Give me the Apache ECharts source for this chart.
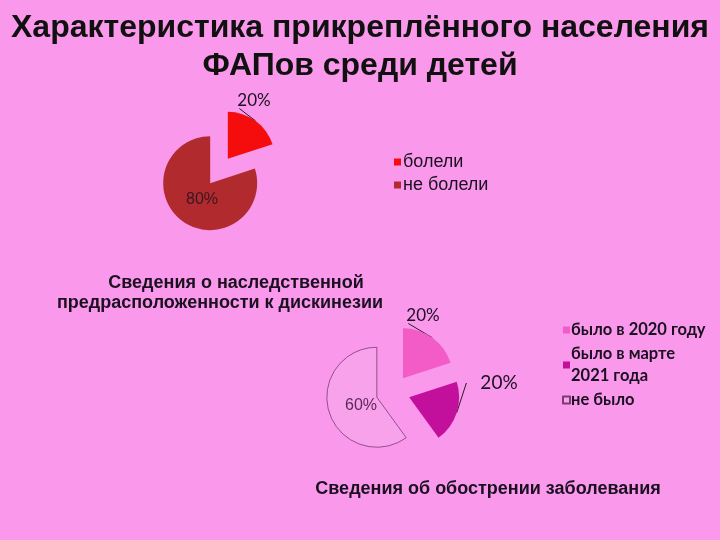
<!DOCTYPE html>
<html><head><meta charset="utf-8">
<script src="https://cdn.jsdelivr.net/npm/echarts@6/dist/echarts.min.js"></script>
<style>html,body{margin:0;padding:0;background:#FA98EC}#c{width:720px;height:540px}</style>
</head><body><div id="c"></div>
<script>
const titleLines = ['Характеристика прикреплённого населения', 'ФАПов среди детей'];
const sub1Lines = ['Сведения о наследственной', 'предрасположенности к дискинезии'];
const sub2 = 'Сведения об обострении заболевания';

const cat1 = ['болели', 'не болели'];
const val1 = [20, 80];
const col1 = ['#F50C0C', '#B02A2E'];

const cat2 = ['было в 2020 году', 'было в марте 2021 года', 'не было'];
const val2 = [20, 20, 60];
const col2 = ['#F35CC6', '#C3109C', '#F9A2EC'];

// label styles / positions (layout only); line: where the leader line meets the label
const lab1 = [
  {pos: [254, 101], font: 'Lato', size: 17, color: '#1a1020', line: 'bottomleft'},
  {pos: [202, 200], font: 'Liberation Sans', size: 16, color: '#3a1622', line: null}
];
const lab2 = [
  {pos: [423, 316], font: 'Lato', size: 17, color: '#1a1020', line: 'bottomleft'},
  {pos: [499, 383], font: 'Lato', size: 19, color: '#1a1020', line: 'left'},
  {pos: [361, 406], font: 'Liberation Sans', size: 16, color: '#5a2a58', line: null}
];
const border2 = [null, null, {borderColor: '#7a3a72', borderWidth: 0.8}];

function explodedPie(names, values, colors, center, radius, offset, labs, borders) {
  const total = values.reduce((a, b) => a + b, 0);
  let cum = 0;
  return names.map((name, i) => {
    const mid = (cum + values[i] / 2) / total * 2 * Math.PI;
    cum += values[i];
    const cx = center[0] + offset * Math.sin(mid);
    const cy = center[1] - offset * Math.cos(mid);
    const L = labs[i];
    return {
      type: 'pie', center: [cx, cy], radius: radius, startAngle: 90,
      avoidLabelOverlap: false, emphasis: {disabled: true}, silent: true,
      data: names.map((n, j) => j === i ? {
        name: n, value: values[j],
        itemStyle: Object.assign({color: colors[j]}, (borders && borders[j]) || {}),
        label: {show: true, position: L.line ? 'outside' : 'inside', formatter: '{d}%',
                fontFamily: L.font, fontSize: L.size, color: L.color},
        labelLine: {show: !!L.line, length: 6, length2: 4, lineStyle: {color: '#2a1a2a', width: 1}}
      } : {
        name: '', value: values[j],
        itemStyle: {color: 'rgba(0,0,0,0)', borderWidth: 0},
        label: {show: false}, labelLine: {show: false}
      }),
      labelLayout: p => {
        if (p.dataIndex !== i) return {};
        const out = {x: L.pos[0], y: L.pos[1], align: 'center', verticalAlign: 'middle'};
        if (L.line && p.labelLinePoints) {
          const w = p.labelRect.width, h = p.labelRect.height;
          const left = L.pos[0] - w / 2, top = L.pos[1] - h / 2;
          const end = L.line === 'left' ? [left - 14, L.pos[1]] : [left + 2, top + h - 1];
          out.labelLinePoints = [p.labelLinePoints[0], end];
        }
        return out;
      }
    };
  });
}

const chart = echarts.init(document.getElementById('c'));
chart.setOption({
  backgroundColor: '#FA98EC',
  animation: false,
  legend: [
    {
      data: cat1, orient: 'vertical', left: 389, top: 148,
      icon: 'rect', itemWidth: 7, itemHeight: 7, itemGap: 5,
      textStyle: {fontFamily: 'Liberation Sans', fontSize: 18, color: '#1a1020', padding: [0, 0, 0, -3]}
    },
    {
      data: cat2, orient: 'vertical', left: 557, top: 314,
      icon: 'rect', itemWidth: 7, itemHeight: 7, itemGap: 2,
      formatter: n => n === 'было в марте 2021 года' ? 'было в марте\n2021 года' : n,
      textStyle: {fontFamily: 'Lato', fontWeight: 'bold', fontSize: 16.5, lineHeight: 22, color: '#1a1020', padding: [0, 0, 0, -4]}
    }
  ],
  series: [].concat(
    explodedPie(cat1, val1, col1, [219, 171], 47, 15, lab1, null),
    explodedPie(cat2, val2, col2, [393, 392], 50, 17, lab2, border2)
  ),
  graphic: [
    {type: 'text', style: {text: titleLines[0], x: 360, y: 28, align: 'center', verticalAlign: 'middle', font: 'bold 32px "Liberation Sans"', fill: '#111'}},
    {type: 'text', style: {text: titleLines[1], x: 360, y: 66, align: 'center', verticalAlign: 'middle', font: 'bold 32px "Liberation Sans"', fill: '#111'}},
    {type: 'text', style: {text: sub1Lines[0], x: 236, y: 283, align: 'center', verticalAlign: 'middle', font: 'bold 18px "Liberation Sans"', fill: '#1a1020'}},
    {type: 'text', style: {text: sub1Lines[1], x: 220, y: 303, align: 'center', verticalAlign: 'middle', font: 'bold 18px "Liberation Sans"', fill: '#1a1020'}},
    {type: 'text', style: {text: sub2, x: 488, y: 489, align: 'center', verticalAlign: 'middle', font: 'bold 18px "Liberation Sans"', fill: '#1a1020'}}
  ]
});
</script></body></html>
